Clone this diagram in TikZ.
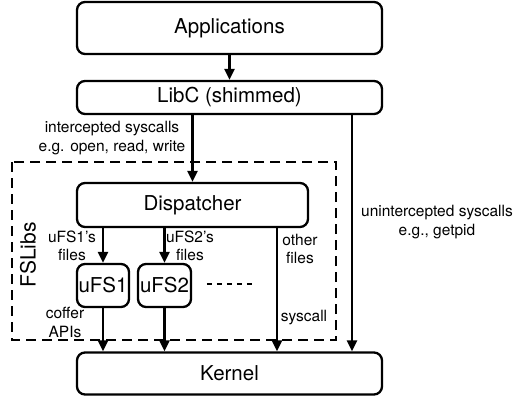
\documentclass[tikz,border=0pt]{standalone}
\usepackage{fontspec}
\setmainfont{TeX Gyre Heros}
\usetikzlibrary{arrows.meta}
\begin{document}
\begin{tikzpicture}[x=1pt,y=-1pt,
  box/.style={draw,line width=2.3pt,rounded corners=8pt,inner sep=0pt,font=\fontsize{20.5}{24}\selectfont},
  arr/.style={line width=2.3pt,-{Triangle[length=11pt,width=10pt]}},
  lbl/.style={font=\fontsize{15.5}{18.5}\selectfont,align=center,inner sep=0pt}]
\useasboundingbox (0,0) rectangle (517,396);
\node[box,minimum width=305pt,minimum height=52pt] (app) at (229.5,28) {Applications};
\node[box,minimum width=305pt,minimum height=33pt] (libc) at (229.5,97.5) {LibC (shimmed)};
\node[box,minimum width=231pt,minimum height=44pt] (disp) at (192.5,205) {Dispatcher};
\node[box,minimum width=52pt,minimum height=43pt] (ufs1) at (103,285.5) {uFS1};
\node[box,minimum width=53pt,minimum height=43pt] (ufs2) at (164.5,285.5) {uFS2};
\node[box,minimum width=305pt,minimum height=42pt] (kernel) at (229.5,373.5) {Kernel};
\draw[line width=2.5pt,dash pattern=on 10pt off 6pt] (12,162) rectangle (336,340);
\node[rotate=90,font=\fontsize{21}{24}\selectfont,inner sep=0pt] (fslibs) at (28,255) {FSLibs};
\coordinate (rx) at (352,0);
\coordinate (ox) at (277,0);
\draw[arr] (app) -- (libc);
\draw[arr] (libc.south -| disp.north) -- (disp.north);
\draw[arr] (libc.south -| rx) -- (kernel.north -| rx);
\draw[arr] (disp.south -| ufs1.north) -- (ufs1.north);
\draw[arr] (disp.south -| ufs2.north) -- (ufs2.north);
\draw[arr] (disp.south -| ox) -- (kernel.north -| ox);
\draw[arr] (ufs1.south) -- (kernel.north -| ufs1.south);
\draw[arr] (ufs2.south) -- (kernel.north -| ufs2.south);
\node[inner sep=0pt,minimum width=45pt] (dots) at (229.5,284) {};
\draw[line width=2.2pt,dash pattern=on 5pt off 5pt] (dots.west) -- (dots.east);
\node[lbl] (ic) at (112,138) {intercepted syscalls\\e.g. open, read, write};
\node[lbl] (f1) at (72,246) {uFS1's\\files};
\node[lbl] (f2) at (190,246) {uFS2's\\files};
\node[lbl] (of) at (300,249) {other\\files};
\node[lbl] (cf) at (65,322.5) {coffer\\APIs};
\node[lbl] (sc) at (304,318) {syscall};
\node[lbl] (un) at (437,222) {unintercepted syscalls\\e.g., getpid};
\end{tikzpicture}
\end{document}
